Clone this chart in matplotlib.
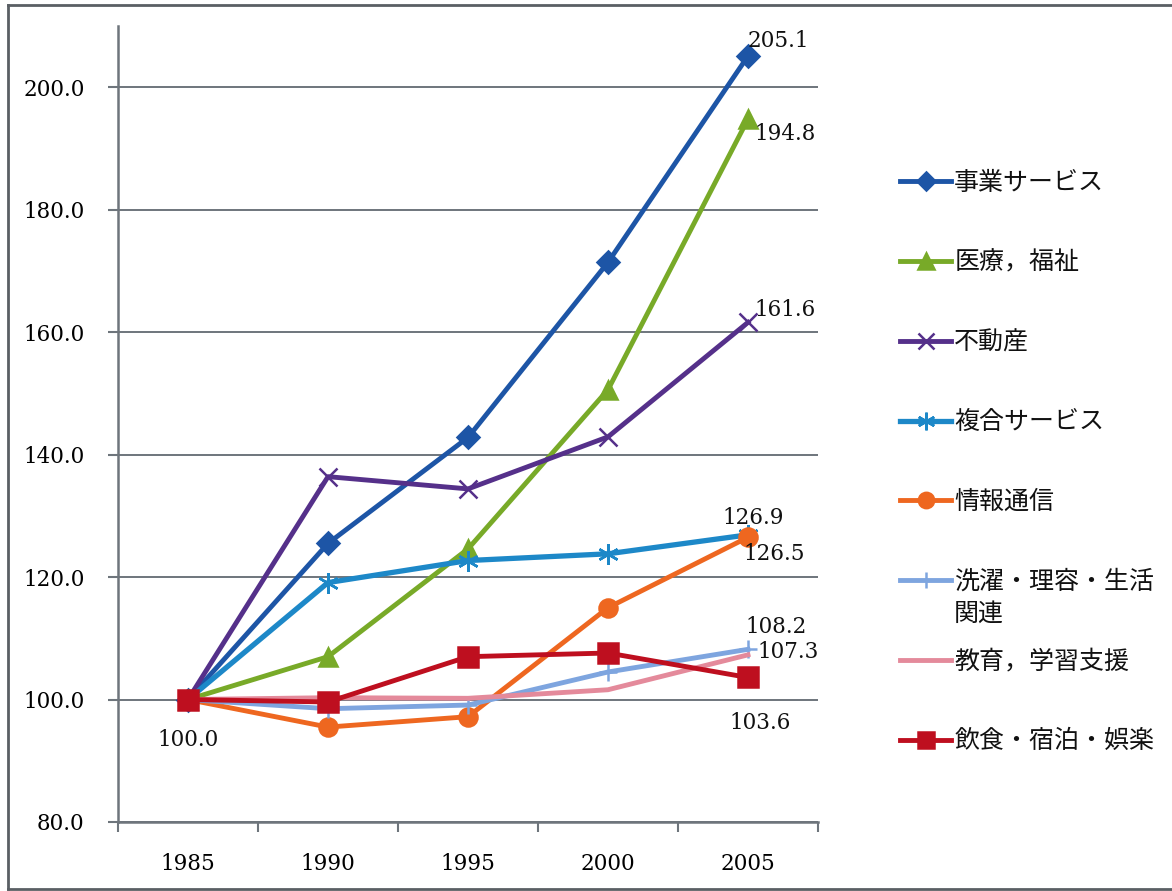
import matplotlib
matplotlib.use("Agg")
import matplotlib.pyplot as plt
from matplotlib.lines import Line2D

# Index of employment by service sector (1985 = 100)
years = ["1985", "1990", "1995", "2000", "2005"]

jigyo = [100.0, 125.5, 142.8, 171.4, 205.1]
iryo = [100.0, 107.0, 124.6, 150.6, 194.8]
fudosan = [100.0, 136.4, 134.4, 142.9, 161.6]
fukugo = [100.0, 119.1, 122.7, 123.8, 126.9]
joho = [100.0, 95.5, 97.2, 115.0, 126.5]
sentaku = [100.0, 98.5, 99.1, 104.5, 108.2]
kyoiku = [100.0, 100.3, 100.2, 101.6, 107.3]
inshoku = [100.0, 99.6, 107.0, 107.6, 103.6]

names = ["事業サービス", "医療，福祉", "不動産", "複合サービス", "情報通信",
         "洗濯・理容・生活\n関連", "教育，学習支援", "飲食・宿泊・娯楽"]

series = [
    (jigyo, "#1D55A6", "D", 11, 3.5),
    (iryo, "#78AA28", "^", 13, 3.5),
    (fudosan, "#55308A", "x", 13, 3.5),
    (fukugo, "#1D88C8", (6, 2, 0), 15, 3.8),
    (joho, "#EE6720", "o", 13, 3.5),
    (sentaku, "#7EA5DF", "+", 13, 3.5),
    (kyoiku, "#E48A9B", None, 0, 3.5),
    (inshoku, "#BE0F1F", "s", 14, 3.5),
]

num_font = "DejaVu Serif"
cjk_font = ["Noto Sans CJK JP", "DejaVu Sans"]
grid_col = "#6E757C"
text_col = "#111111"

fig = plt.figure(figsize=(11.72, 8.91), dpi=100)
fig.patch.set_facecolor("white")
ax = fig.add_axes([118 / 1172, 1 - 822 / 891, 700 / 1172, (822 - 26) / 891])

x = list(range(len(years)))
handles = []
for (vals, col, mk, ms, lw), name in zip(series, names):
    kw = dict(color=col, lw=lw, solid_joinstyle="round", zorder=3)
    if mk is not None:
        kw.update(marker=mk, markersize=ms, markerfacecolor=col,
                  markeredgecolor=col, markeredgewidth=1.8)
    line, = ax.plot(x, vals, label=name, **kw)
    handles.append(line)

ax.set_xlim(-0.5, len(years) - 0.5)
ax.set_ylim(80, 210)
yt = [80, 100, 120, 140, 160, 180, 200]
ax.set_yticks(yt)
ax.set_yticklabels([f"{v:.1f}" for v in yt], fontfamily=num_font, fontsize=15.5)
ax.set_xticks([i - 0.5 for i in range(len(years) + 1)])
ax.set_xticklabels([])
ax.set_xticks(x, minor=True)
ax.set_xticklabels(years, minor=True, fontfamily=num_font, fontsize=15.5)
ax.tick_params(axis="x", which="minor", length=0, pad=22)
ax.tick_params(axis="x", which="major", length=7, width=1.5, color=grid_col, direction="out")
ax.tick_params(axis="y", length=7, width=1.5, color=grid_col, direction="out", pad=17)

ax.grid(axis="y", color=grid_col, lw=1.4, zorder=0)
ax.set_axisbelow(True)
for s in ["top", "right"]:
    ax.spines[s].set_visible(False)
for s in ["left", "bottom"]:
    ax.spines[s].set_color(grid_col)
    ax.spines[s].set_linewidth(1.8)

# Value labels (offsets in points)
labels = [
    (4, jigyo[4], 22, 11),
    (4, iryo[4], 27, -11),
    (4, fudosan[4], 27, 9),
    (4, fukugo[4], 4, 12),
    (4, joho[4], 19, -12),
    (4, sentaku[4], 20, 16),
    (4, kyoiku[4], 29, 2),
    (4, inshoku[4], 9, -33),
    (0, jigyo[0], 0, -29),
]
for xi, v, dx, dy in labels:
    ax.annotate(f"{v:.1f}", (xi, v), xytext=(dx, dy), textcoords="offset points",
                ha="center", va="center", fontfamily=num_font, fontsize=15.5,
                color=text_col, zorder=5)

# Legend: the handle sits on the first line of each label; any further
# lines of a label are set as plain text beneath it.
first_lines = [n.split("\n")[0] for n in names]
leg = fig.legend(handles=handles, labels=first_lines, loc="upper left",
                 bbox_to_anchor=(900 / 1172, 1 - 170 / 891),
                 frameon=False, prop={"family": cjk_font, "size": 18},
                 handlelength=2.05, handletextpad=0.12, labelspacing=2.15,
                 borderaxespad=0, borderpad=0)
for t in leg.get_texts():
    t.set_color(text_col)
for h in leg.legend_handles:
    ms = h.get_markersize()
    h.set_markersize(ms * 0.85 if ms else 0)

fig.canvas.draw()
inv = fig.transFigure.inverted()
for name, t in zip(names, leg.get_texts()):
    extra = name.split("\n")[1:]
    if not extra:
        continue
    bb = t.get_window_extent(fig.canvas.get_renderer())
    x0, y0 = inv.transform((bb.x0, bb.y0))
    fig.text(x0, y0 - 6 / 891, "\n".join(extra), ha="left", va="top",
             family=cjk_font, fontsize=18, color=text_col)

# Outer frame
frame_col = "#5A5F64"
fig.add_artist(Line2D([8 / 1172, 8 / 1172], [1 - 5 / 891, 1 - 889 / 891],
                      color=frame_col, lw=2, transform=fig.transFigure))
fig.add_artist(Line2D([8 / 1172, 1.0], [1 - 5 / 891, 1 - 5 / 891],
                      color=frame_col, lw=2, transform=fig.transFigure))
fig.add_artist(Line2D([8 / 1172, 1.0], [1 - 889 / 891, 1 - 889 / 891],
                      color=frame_col, lw=2, transform=fig.transFigure))

fig.savefig("out.png", dpi=100, facecolor="white")
